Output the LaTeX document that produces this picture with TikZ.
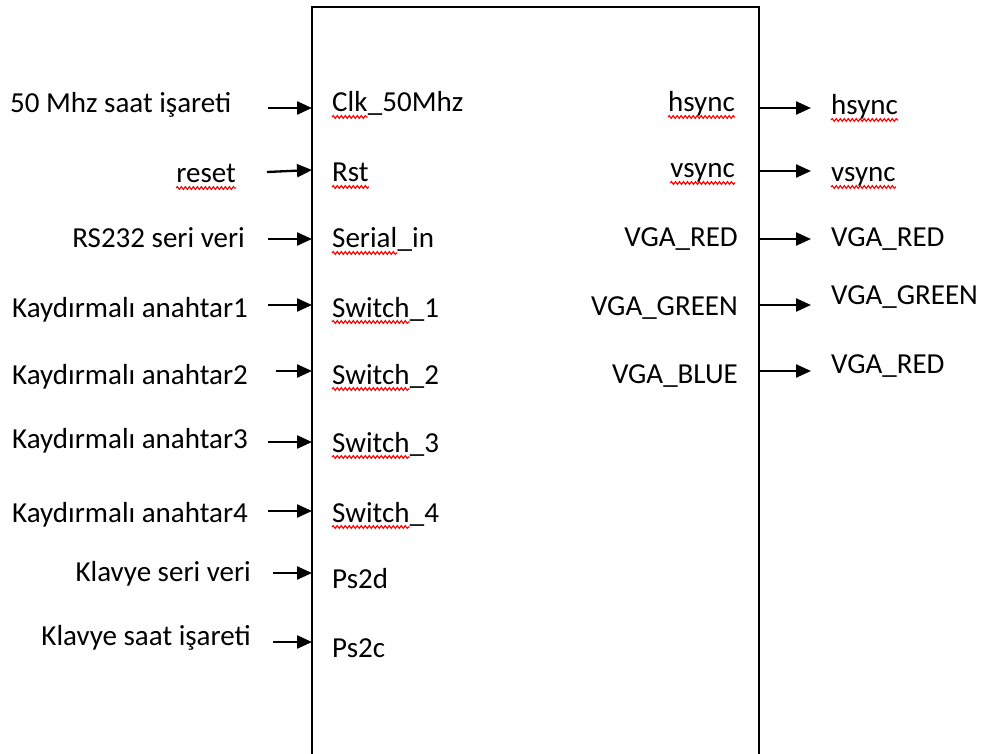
\documentclass[tikz,border=0pt]{standalone}
\usepackage{fontspec}
\setmainfont{Carlito}
\usetikzlibrary{arrows.meta,decorations.pathmorphing}
\begin{document}
\begin{tikzpicture}[x=1pt,y=-1pt,
  lbl/.style={inner sep=0pt, font=\fontsize{29}{34}\selectfont, text=black},
  sig/.style={line width=2.3pt, -{Triangle[length=15pt,width=13pt]}},
  wave/.style={draw=red, line width=1.1pt, decorate, decoration={snake, segment length=4pt, amplitude=1.4pt}},
  box/.style={line width=2.3pt}]
\useasboundingbox (0,0) rectangle (991,754);
% block
\coordinate (bl) at (312,754);
\coordinate (tl) at (312,7);
\coordinate (tr) at (759,7);
\coordinate (br) at (759,754);
\draw[box] (bl) -- (tl) -- (tr) -- (br);

% ---- left outer labels
\node[lbl, anchor=base west] (l1) at (10,113) {50 Mhz saat işareti};
\node[lbl, anchor=base east] (l2) at (236,183) {reset};
\node[lbl, anchor=base east] (l3) at (245,248) {RS232 seri veri};
\node[lbl, anchor=base west] (l4) at (12,317) {Kaydırmalı anahtar1};
\node[lbl, anchor=base west] (l5) at (12,384) {Kaydırmalı anahtar2};
\node[lbl, anchor=base west] (l6) at (12,448) {Kaydırmalı anahtar3};
\node[lbl, anchor=base west] (l7) at (12,522) {Kaydırmalı anahtar4};
\node[lbl, anchor=base east] (l8) at (251,581) {Klavye seri veri};
\node[lbl, anchor=base east] (l9) at (251,645) {Klavye saat işareti};

% ---- left inner labels
\node[lbl, anchor=base west] (i1a) at (332,112) {Clk};
\node[lbl, anchor=base west] (i1b) at (i1a.base east) {\_50Mhz};
\node[lbl, anchor=base west] (i2) at (332,182) {Rst};
\node[lbl, anchor=base west] (i3a) at (332,248) {Serial};
\node[lbl, anchor=base west] (i3b) at (i3a.base east) {\_in};
\node[lbl, anchor=base west] (i4a) at (332,317) {Switch};
\node[lbl, anchor=base west] (i4b) at (i4a.base east) {\_1};
\node[lbl, anchor=base west] (i5a) at (332,384) {Switch};
\node[lbl, anchor=base west] (i5b) at (i5a.base east) {\_2};
\node[lbl, anchor=base west] (i6a) at (332,452) {Switch};
\node[lbl, anchor=base west] (i6b) at (i6a.base east) {\_3};
\node[lbl, anchor=base west] (i7a) at (332,522) {Switch};
\node[lbl, anchor=base west] (i7b) at (i7a.base east) {\_4};
\node[lbl, anchor=base west] (i8) at (332,588) {Ps2d};
\node[lbl, anchor=base west] (i9) at (332,657) {Ps2c};

% ---- right inner labels
\node[lbl, anchor=base east] (o1) at (735,112) {hsync};
\node[lbl, anchor=base east] (o2) at (735,178) {vsync};
\node[lbl, anchor=base east] (o3) at (738,247) {VGA\_RED};
\node[lbl, anchor=base east] (o4) at (738,315) {VGA\_GREEN};
\node[lbl, anchor=base east] (o5) at (738,383) {VGA\_BLUE};

% ---- right outer labels
\node[lbl, anchor=base west] (r1) at (831,115) {hsync};
\node[lbl, anchor=base west] (r2) at (831,182) {vsync};
\node[lbl, anchor=base west] (r3) at (831,247) {VGA\_RED};
\node[lbl, anchor=base west] (r4) at (831,305) {VGA\_GREEN};
\node[lbl, anchor=base west] (r5) at (831,373) {VGA\_RED};

% ---- input arrows
\coordinate (a1s) at (268,108); \coordinate (a1e) at (312,108);
\coordinate (a2s) at (267,172); \coordinate (a2e) at (312,170);
\coordinate (a3s) at (268,239); \coordinate (a3e) at (312,239);
\coordinate (a4s) at (268,305); \coordinate (a4e) at (312,305);
\coordinate (a5s) at (276,371); \coordinate (a5e) at (312,371);
\coordinate (a6s) at (268,442); \coordinate (a6e) at (312,442);
\coordinate (a7s) at (268,511); \coordinate (a7e) at (312,511);
\coordinate (a8s) at (273,573); \coordinate (a8e) at (312,573);
\coordinate (a9s) at (273,642); \coordinate (a9e) at (312,642);
\foreach \k in {1,...,9} {\draw[sig] (a\k s) -- (a\k e);}

% ---- output arrows
\coordinate (b1s) at (759,108); \coordinate (b1e) at (811,108);
\coordinate (b2s) at (759,171); \coordinate (b2e) at (811,171);
\coordinate (b3s) at (759,239); \coordinate (b3e) at (811,239);
\coordinate (b4s) at (759,305); \coordinate (b4e) at (811,305);
\coordinate (b5s) at (759,371); \coordinate (b5e) at (811,371);
\foreach \k in {1,...,5} {\draw[sig] (b\k s) -- (b\k e);}

% ---- spell-check squiggles
\foreach \n in {l2,i1a,i2,i3a,i4a,i5a,i6a,i7a,o1,o2,r1,r2}
  {\draw[wave] ([yshift=-5pt]\n.base west) -- ([yshift=-5pt]\n.base east);}
\end{tikzpicture}
\end{document}
